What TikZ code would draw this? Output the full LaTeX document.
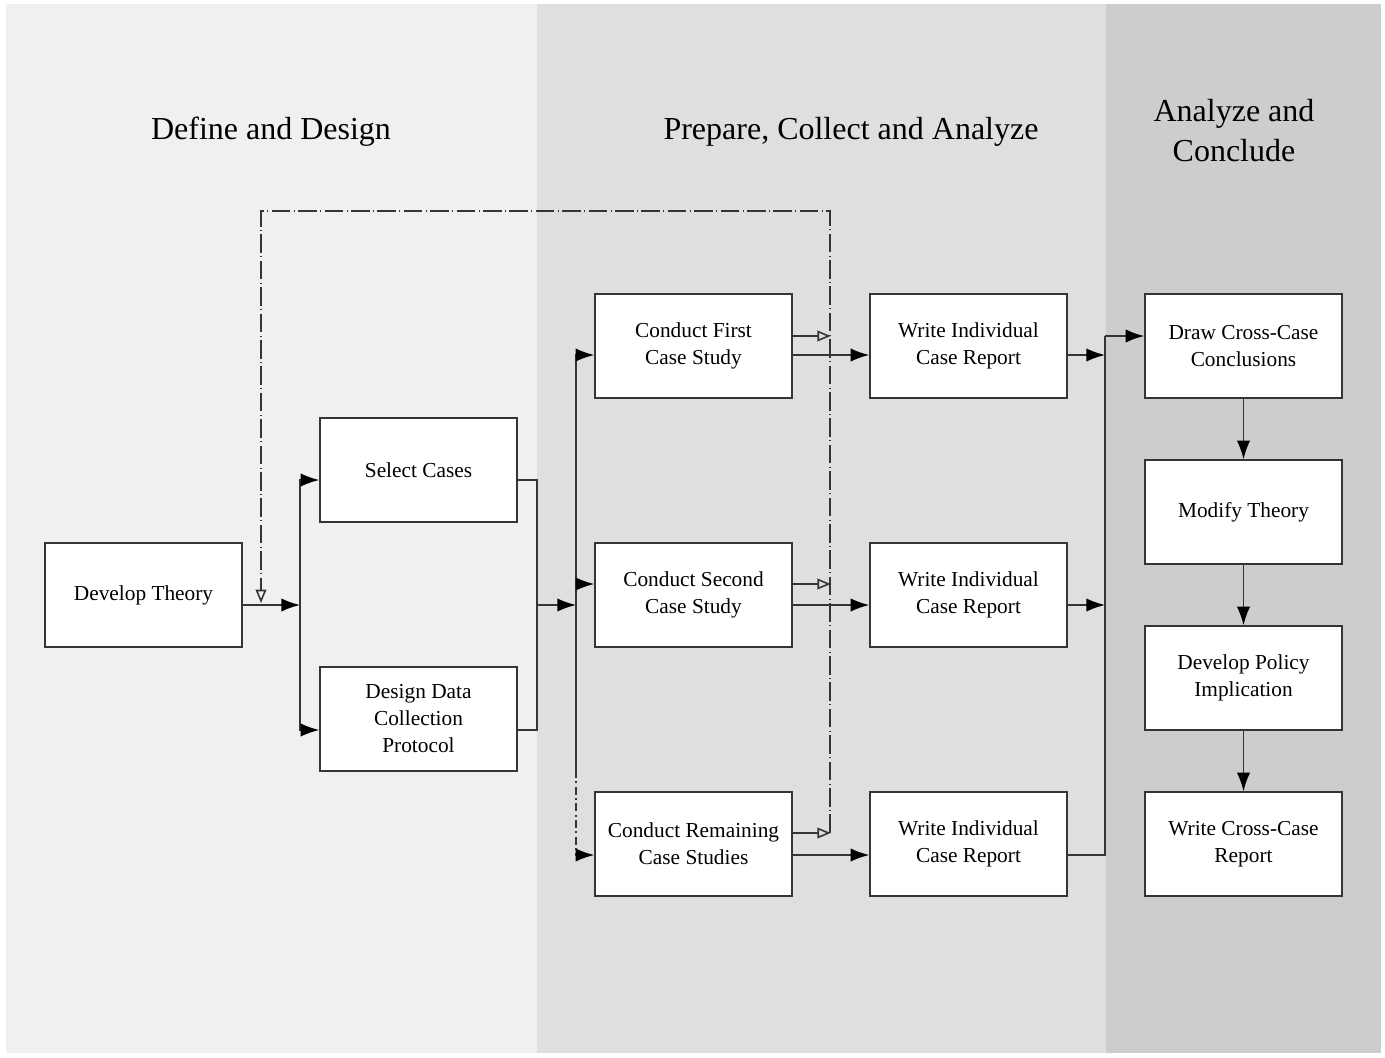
\documentclass[tikz,border=0pt]{standalone}
\usepackage{fontspec}
\setmainfont{Liberation Serif}
\usetikzlibrary{arrows.meta}
\definecolor{panelA}{HTML}{F0F0F0}
\definecolor{panelB}{HTML}{DFDFDF}
\definecolor{panelC}{HTML}{CDCDCD}
\definecolor{ink}{HTML}{353535}
\begin{document}
\begin{tikzpicture}[x=0.75pt,y=-0.75pt,
  box/.style={draw=ink,fill=white,line width=1.1pt,minimum width=147.75pt,minimum height=78pt,
    align=center,font=\fontsize{16}{20.25}\selectfont,inner sep=0pt},
  title/.style={align=center,font=\fontsize{24}{30}\selectfont},
  con/.style={draw=ink,line width=1.2pt},
  arr/.style={con,-{Latex[length=14pt,width=10pt,color=black]}},
  oarr/.style={con,-{Triangle[open,length=10pt,width=8pt]}},
  fbline/.style={con,dash pattern=on 14pt off 2.5pt on 0.8pt off 2.5pt},
  dashdot/.style={dash pattern=on 6pt off 2.5pt on 1.5pt off 2.5pt}]
% page and phase panels
\useasboundingbox (0,0) rectangle (1385,1057);
\fill[white] (0,0) rectangle (1385,1057);
\fill[panelA] (6,4) rectangle (537,1053);
\fill[panelB] (537,4) rectangle (1106,1053);
\fill[panelC] (1106,4) rectangle (1381,1053);

% phase titles
\node[title] (t1) at (271,132) {Define and Design};
\node[title] (t2) at (851,132) {Prepare, Collect and Analyze};
\node[title] (t3) at (1234,131) {Analyze and\\Conclude};

% steps
\node[box] (dev) at (143.5,595) {Develop Theory};
\node[box] (sel) at (418.5,470) {Select Cases};
\node[box] (des) at (418.5,719) {Design Data\\Collection\\Protocol};
\node[box] (c1) at (693.5,346) {Conduct First\\Case Study};
\node[box] (c2) at (693.5,595) {Conduct Second\\Case Study};
\node[box] (c3) at (693.5,844) {Conduct Remaining\\Case Studies};
\node[box] (w1) at (968.5,346) {Write Individual\\Case Report};
\node[box] (w2) at (968.5,595) {Write Individual\\Case Report};
\node[box] (w3) at (968.5,844) {Write Individual\\Case Report};
\node[box] (dr) at (1243.5,346) {Draw Cross-Case\\Conclusions};
\node[box] (mod) at (1243.5,512) {Modify Theory};
\node[box] (pol) at (1243.5,678) {Develop Policy\\Implication};
\node[box] (wc) at (1243.5,844) {Write Cross-Case\\Report};

% junction points
\coordinate (j1) at (300,605);
\coordinate (m1) at (537,605);
\coordinate (j2) at (576,605);
\coordinate (k) at (576,770);
\coordinate (v1) at (1105,355);
\coordinate (v2) at (1105,605);
\coordinate (j3) at (1105,336);
\coordinate (fbB) at (830,833);
\coordinate (fbT) at (830,211);
\coordinate (fbL) at (261,211);
\coordinate (fbE) at (261,605);

% define and design
\draw[arr] ([yshift=-7.5pt]dev.east) -- (j1);
\draw[arr] (j1) |- ([yshift=-7.5pt]sel.west);
\draw[arr] (j1) |- ([yshift=-8.25pt]des.west);
\draw[con] ([yshift=-7.5pt]sel.east) -| (m1);
\draw[con] ([yshift=-8.25pt]des.east) -| (m1);
\draw[arr] (m1) -- (j2);

% case studies
\draw[arr] (j2) |- ([yshift=-6.75pt]c1.west);
\draw[arr] (j2) |- ([yshift=8.25pt]c2.west);
\draw[con] (j2) -- (k);
\draw[arr,dashdot] (k) |- ([yshift=-8.25pt]c3.west);

\draw[arr] ([yshift=-6.75pt]c1.east) -- ([yshift=-6.75pt]w1.west);
\draw[arr] ([yshift=-7.5pt]c2.east) -- ([yshift=-7.5pt]w2.west);
\draw[arr] ([yshift=-8.25pt]c3.east) -- ([yshift=-8.25pt]w3.west);

% feedback to theory
\draw[oarr] ([yshift=7.5pt]c1.east) -- ++(28.5pt,0);
\draw[oarr] ([yshift=8.25pt]c2.east) -- ++(28.5pt,0);
\draw[oarr] ([yshift=8.25pt]c3.east) -- ++(28.5pt,0);
\draw[fbline,-{Triangle[open,length=10pt,width=8pt]}] (fbB) -- (fbT) -- (fbL) -- ([yshift=1.5pt]fbE);

% reports to conclusions
\draw[arr] ([yshift=-6.75pt]w1.east) -- (v1);
\draw[arr] ([yshift=-7.5pt]w2.east) -- (v2);
\draw[con] ([yshift=-8.25pt]w3.east) -| (j3);
\draw[arr] (j3) -- ([yshift=7.5pt]dr.west);

\draw[arr] (dr) -- (mod);
\draw[arr] (mod) -- (pol);
\draw[arr] (pol) -- (wc);
\end{tikzpicture}
\end{document}
